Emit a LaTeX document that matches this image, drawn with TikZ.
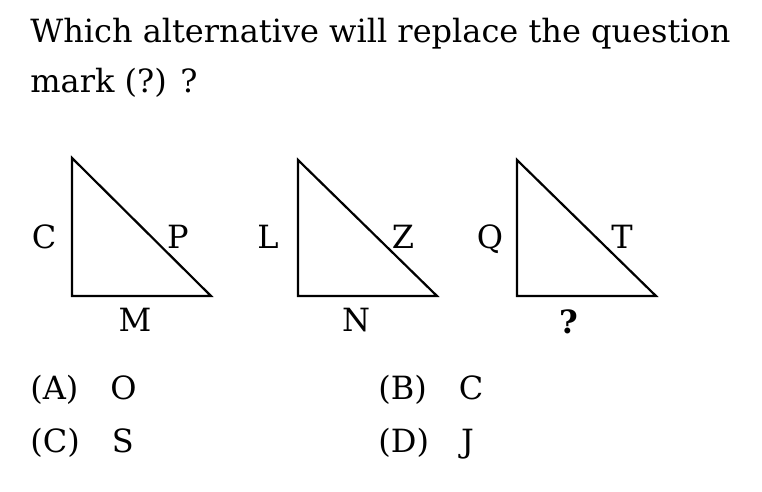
\documentclass[tikz,border=0pt]{standalone}
\usepackage{fontspec}
\setmainfont{DejaVu Serif}
\usepackage{tikz}
\usetikzlibrary{positioning}

\begin{document}
\begin{tikzpicture}[
    x=0.5pt, y=-0.5pt,
    tri/.style={line width=1.1pt, line join=miter},
    lbl/.style={anchor=base, font=\fontsize{16}{19}\selectfont, inner sep=0pt},
    qtext/.style={anchor=base west, font=\fontsize{16}{19}\selectfont, inner sep=0pt}
]
\useasboundingbox (0,0) rectangle (762,492);

% Question
\node[qtext] (line1) at (30,43) {Which alternative will replace the question};
\node[qtext] (line2) at (30,93) {mark (?) ?};

% Triangles
\draw[tri] (72,158) -- (72,296) -- (211,296) -- cycle;
\draw[tri] (298,160) -- (298,296) -- (437,296) -- cycle;
\draw[tri] (517,160) -- (517,296) -- (656,296) -- cycle;

% Side letters
\node[lbl] (c) at (44,249) {C};
\node[lbl] (p) at (178,249) {P};
\node[lbl] (m) at (135,332) {M};
\node[lbl] (l) at (268,249) {L};
\node[lbl] (z) at (403,249) {Z};
\node[lbl] (n) at (356,332) {N};
\node[lbl] (q) at (490,249) {Q};
\node[lbl] (t) at (622,249) {T};
\node[lbl] (mark) at (569,334) {\textbf{?}};

% Options
\node[qtext] (optA) at (30,400) {(A)\quad O};
\node[qtext] (optB) at (378,400) {(B)\quad C};
\node[qtext] (optC) at (30,452) {(C)\quad S};
\node[qtext] (optD) at (378,452) {(D)\quad J};

\end{tikzpicture}
\end{document}
